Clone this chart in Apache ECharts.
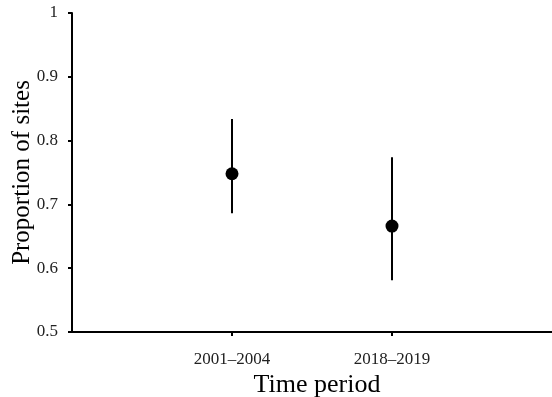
<!DOCTYPE html>
<html>
<head>
<meta charset="utf-8">
<script src="https://cdn.jsdelivr.net/npm/echarts@6/dist/echarts.min.js"></script>
<style>
  html, body { margin: 0; padding: 0; background: #fff; }
  #chart { width: 552px; height: 397px; }
</style>
</head>
<body>
<div id="chart"></div>
<script>
const categories = ['2001–2004', '2018–2019']
const means = [0.748, 0.666]
const lower = [0.686, 0.581]
const upper = [0.834, 0.774]

const font = '"Liberation Serif", "DejaVu Serif", serif'
const chart = echarts.init(document.getElementById('chart'))

// x positions are 1..n on a 0..n+1 value axis
const points = means.map((m, i) => [i + 1, m])
const bars = means.map((m, i) => [i + 1, lower[i], upper[i]])

chart.setOption({
  animation: false,
  grid: { left: 72, right: 0, top: 13, bottom: 65, containLabel: false, outerBoundsMode: 'none' },
  xAxis: {
    type: 'value',
    min: 0,
    max: categories.length + 1,
    interval: 1,
    splitLine: { show: false },
    axisLine: { lineStyle: { color: '#000', width: 2 } },
    axisTick: { length: 4, lineStyle: { color: '#000', width: 2 }, customValues: categories.map((c, i) => i + 1) },
    axisLabel: {
      margin: 19,
      color: '#222',
      fontFamily: font,
      fontSize: 17,
      customValues: categories.map((c, i) => i + 1),
      formatter: (v) => categories[v - 1] ?? '',
    },
    name: 'Time period',
    nameLocation: 'middle',
    nameGap: 40,
    nameMoveOverlap: false,
    nameTextStyle: { color: '#000', fontFamily: font, fontSize: 26, padding: [0, 0, 0, 10] },
  },
  yAxis: {
    type: 'value',
    min: 0.5,
    max: 1,
    interval: 0.1,
    splitLine: { show: false },
    axisLine: { show: true, lineStyle: { color: '#000', width: 2 } },
    axisTick: { show: true, length: 4, lineStyle: { color: '#000', width: 2 } },
    axisLabel: {
      margin: 14,
      color: '#222',
      fontFamily: font,
      fontSize: 17,
      formatter: (v) => (v === 1 ? '1' : v.toFixed(1)),
    },
    name: 'Proportion of sites',
    nameLocation: 'middle',
    nameGap: 37,
    nameMoveOverlap: false,
    nameTextStyle: { color: '#000', fontFamily: font, fontSize: 25 },
  },
  series: [
    {
      type: 'custom',
      data: bars,
      renderItem: (params, api) => {
        const lo = api.coord([api.value(0), api.value(1)])
        const hi = api.coord([api.value(0), api.value(2)])
        return {
          type: 'line',
          shape: { x1: lo[0], y1: lo[1], x2: hi[0], y2: hi[1] },
          style: { stroke: '#000', lineWidth: 2 },
        }
      },
      z: 1,
    },
    {
      type: 'scatter',
      data: points,
      symbol: 'circle',
      symbolSize: 13,
      itemStyle: { color: '#000', opacity: 1 },
      z: 2,
    },
  ],
})
</script>
</body>
</html>
